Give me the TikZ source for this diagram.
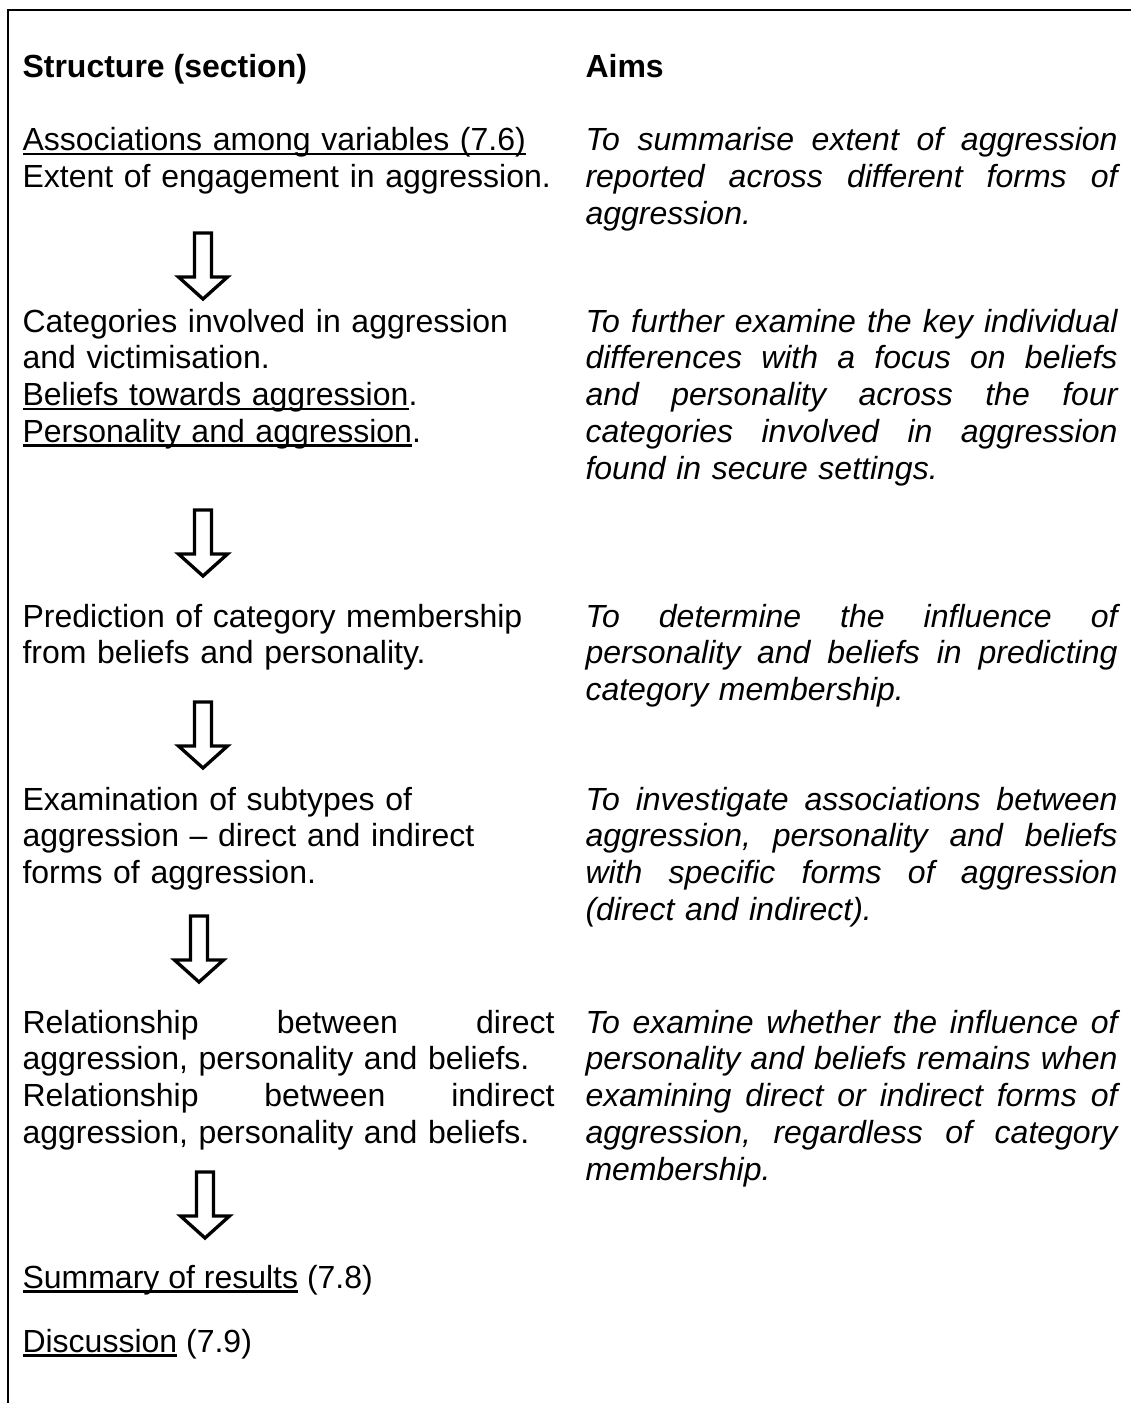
\documentclass[tikz,border=0pt]{standalone}
\usepackage{fontspec}
\setmainfont{Liberation Sans}
\frenchspacing
% column width and helpers
\newlength\colw
\setlength\colw{199.5pt}
\newsavebox\ulbox
% a fully justified line of a paragraph
\newcommand\jl[1]{\leavevmode\hbox to \colw{\spaceskip=.278em plus 1fil\relax#1}}
% word-processor style underline that runs through descenders
\newcommand\wordul[1]{\leavevmode\sbox\ulbox{#1}%
  \rlap{\rule[-1.8pt]{\wd\ulbox}{1pt}}\usebox{\ulbox}}
\tikzset{
  txt/.style={anchor=base west, inner sep=0pt, text width=\colw, align=left,
    font=\fontsize{12pt}{13.79pt}\selectfont},
  aim/.style={txt, font=\fontsize{12pt}{13.79pt}\selectfont\itshape},
  head/.style={anchor=base west, inner sep=0pt,
    font=\fontsize{12pt}{13.79pt}\selectfont\bfseries},
  plain/.style={anchor=base west, inner sep=0pt,
    font=\fontsize{12pt}{13.79pt}\selectfont},
  frame/.style={line width=1pt},
  blockarrow/.style={draw=black, fill=white, line width=1.25pt, line join=miter}
}
% hollow downward block arrow: #1 centre x, #2 top y
\newcommand\flowarrow[2]{%
  \draw[blockarrow] (#1-8.5,#2) -- (#1+8.5,#2) -- (#1+8.5,#2+44)
    -- (#1+24.5,#2+44) -- (#1,#2+66) -- (#1-24.5,#2+44)
    -- (#1-8.5,#2+44) -- cycle;}
\begin{document}
\begin{tikzpicture}[x=0.375pt,y=-0.375pt]
\useasboundingbox (0,0) rectangle (1131,1403);
\fill[white] (0,0) rectangle (1131,1403);
% open frame: left and top edges
\draw[frame] (8,1403) -- (8,10) -- (1131,10);

% column headings
\node[head] (hstruct) at (22,77) {Structure (section)};
\node[head] (haims) at (585,77) {Aims};

% row 1
\node[txt] (s1) at (22,150.5) {\wordul{Associations among variables (7.6)}\\
  Extent of engagement in aggression.};
\node[aim] (a1) at (585,150.5) {\jl{To summarise extent of aggression}\\
  \jl{reported across different forms of}\\
  aggression.};
\flowarrow{203}{233}

% row 2
\node[txt] (s2) at (22,332) {Categories involved in aggression\\
  and victimisation.\\
  \wordul{Beliefs towards aggression}.\\
  \wordul{Personality and aggression}.};
\node[aim] (a2) at (585,332) {\jl{To further examine the key individual}\\
  \jl{differences with a focus on beliefs}\\
  \jl{and personality across the four}\\
  \jl{categories involved in aggression}\\
  found in secure settings.};
\flowarrow{203}{510}

% row 3
\node[txt] (s3) at (22,627) {Prediction of category membership\\
  from beliefs and personality.};
\node[aim] (a3) at (585,627) {\jl{To determine the influence of}\\
  \jl{personality and beliefs in predicting}\\
  category membership.};
\flowarrow{203}{702}

% row 4
\node[txt] (s4) at (22,810) {Examination of subtypes of\\
  aggression – direct and indirect\\
  forms of aggression.};
\node[aim] (a4) at (585,810) {\jl{To investigate associations between}\\
  \jl{aggression, personality and beliefs}\\
  \jl{with specific forms of aggression}\\
  (direct and indirect).};
\flowarrow{199}{916}

% row 5
\node[txt] (s5) at (22,1033) {\jl{Relationship between direct}\\
  aggression, personality and beliefs.\\
  \jl{Relationship between indirect}\\
  aggression, personality and beliefs.};
\node[aim] (a5) at (585,1033) {\jl{To examine whether the influence of}\\
  \jl{personality and beliefs remains when}\\
  \jl{examining direct or indirect forms of}\\
  \jl{aggression, regardless of category}\\
  membership.};
\flowarrow{205}{1172}

% closing sections
\node[plain] (summ) at (22,1288) {\wordul{Summary of results} (7.8)};
\node[plain] (disc) at (22,1352) {\wordul{Discussion} (7.9)};
\end{tikzpicture}
\end{document}
